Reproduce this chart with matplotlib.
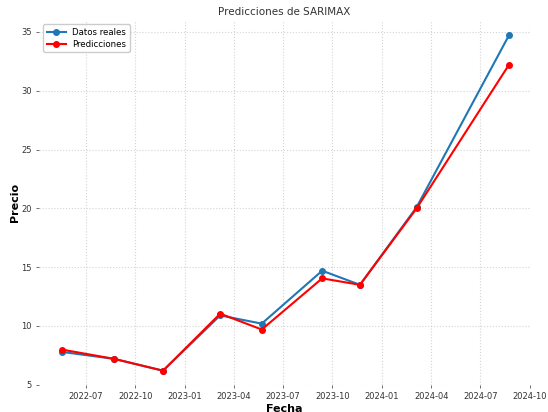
import matplotlib
matplotlib.use("Agg")
import matplotlib.pyplot as plt
import matplotlib.dates as mdates
import pandas as pd

# Quarterly observation dates and prices
fechas = pd.to_datetime([
    "2022-05-17", "2022-08-23", "2022-11-21", "2023-03-07", "2023-05-23",
    "2023-09-12", "2023-11-21", "2024-03-05", "2024-08-23",
])
reales = [7.8, 7.2, 6.2, 10.9, 10.2, 14.7, 13.5, 20.1, 34.7]
predicciones = [8.0, 7.2, 6.2, 11.05, 9.7, 14.05, 13.5, 20.0, 32.2]

fig = plt.figure(figsize=(5.48, 4.12), dpi=100)
ax = fig.add_axes([0.071, 0.066, 0.896, 0.885])

ax.plot(fechas, reales, color="#1f77b4", marker="o", markersize=4,
        linewidth=1.5, label="Datos reales")
ax.plot(fechas, predicciones, color="red", marker="o", markersize=4,
        linewidth=1.5, label="Predicciones")

ax.set_xlim(pd.Timestamp("2022-04-05"), pd.Timestamp("2024-10-01"))
ax.set_ylim(5, 36)
ax.xaxis.set_major_locator(mdates.MonthLocator(bymonth=[1, 4, 7, 10]))
ax.xaxis.set_major_formatter(mdates.DateFormatter("%Y-%m"))
ax.set_yticks([5, 10, 15, 20, 25, 30, 35])

for s in ax.spines.values():
    s.set_visible(False)
ax.grid(True, color="#d4d4d4", linestyle=":", linewidth=0.8)
ax.tick_params(axis="both", labelsize=6.0, length=2, width=0.6,
               color="#555555", labelcolor="#333333", pad=3)

ax.set_title("Predicciones de SARIMAX", fontsize=7.5, color="#333333", pad=4)
ax.set_xlabel("Fecha", fontsize=8, fontweight="bold", labelpad=2)
ax.set_ylabel("Precio", fontsize=8, fontweight="bold", labelpad=1)
ax.legend(loc="upper left", fontsize=6.2, frameon=True, framealpha=1,
          edgecolor="#cccccc", handlelength=2.2, borderpad=0.4,
          labelspacing=0.3)

fig.savefig("out.png", dpi=100)
